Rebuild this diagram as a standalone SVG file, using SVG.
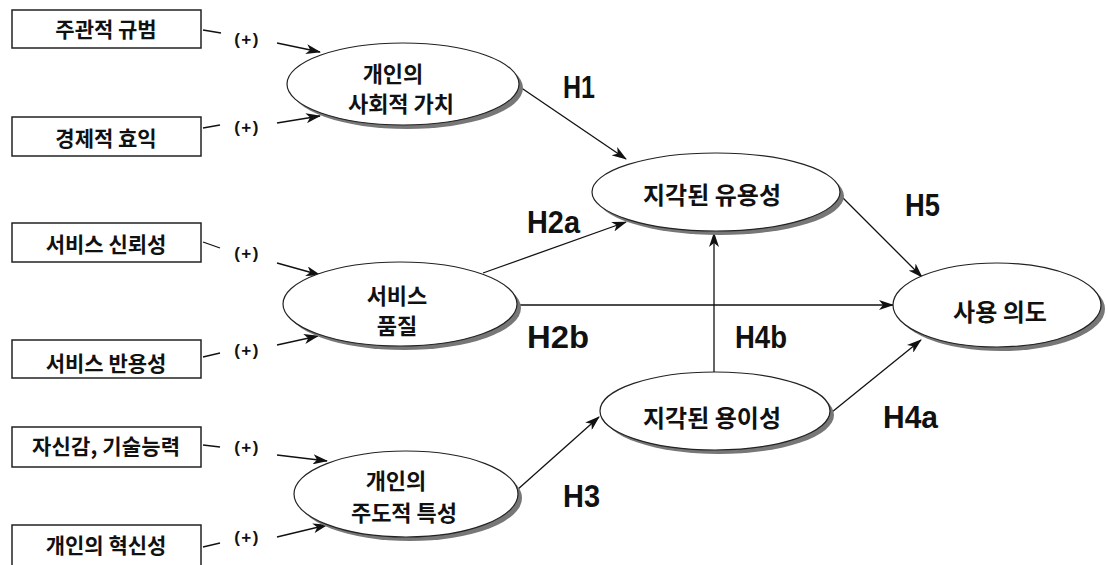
<svg xmlns="http://www.w3.org/2000/svg" width="1108" height="565" viewBox="0 0 1108 565">
<style>
.box{fill:#fff;stroke:#222;stroke-width:1.5}
.ell{fill:#fff;stroke:#222;stroke-width:1.2}
.sh{fill:#777}
.kt{font-family:"Noto Sans CJK KR","Noto Sans",sans-serif;font-weight:700;fill:#111;text-anchor:middle}
.bt{font-size:21px}
.et{font-size:24px}
.et2{font-size:22px}
.pl{font-family:"Liberation Sans",Arial,sans-serif;font-weight:700;font-size:17px;letter-spacing:1.5px;fill:#111;text-anchor:middle}
.hl{font-family:"Liberation Sans",Arial,sans-serif;font-weight:700;font-size:31px;fill:#111}
.ln{stroke:#111;stroke-width:1.3;fill:none}
.ar{stroke:#111;stroke-width:1.3;fill:none;marker-end:url(#ah)}
</style>
<defs>
<marker id="ah" markerUnits="userSpaceOnUse" markerWidth="16" markerHeight="10" refX="14" refY="5" orient="auto">
<path d="M0,0 L15,5 L0,10 L4,5 z" fill="#111"/>
</marker>
</defs>
<rect width="1108" height="565" fill="#fff"/>

<g id="connectors">
<path class="ln" d="M203,30 L221,33"/>
<path class="ln" d="M203,128 L220,125"/>
<path class="ln" d="M203,242 L220,248"/>
<path class="ln" d="M203,357 L220,353"/>
<path class="ln" d="M203,445 L220,447"/>
<path class="ln" d="M203,547 L220,543"/>
<path class="ar" d="M277,43 L320,52"/>
<path class="ar" d="M277,123 L320,116"/>
<path class="ar" d="M277,263 L320,275"/>
<path class="ar" d="M277,345 L318,336"/>
<path class="ar" d="M277,455 L327,461"/>
<path class="ar" d="M277,537 L327,525"/>
<path class="ar" d="M520,87 L626,159"/>
<path class="ar" d="M483,273 L626,222"/>
<path class="ar" d="M517,305 L893,305"/>
<path class="ar" d="M714,372 L714,233"/>
<path class="ar" d="M842,197 L922,277"/>
<path class="ar" d="M832,412 L921,340"/>
<path class="ar" d="M517,490 L599,417"/>
</g>

<g id="labels">
<text class="pl" x="247" y="45">(+)</text>
<text class="pl" x="247" y="133">(+)</text>
<text class="pl" x="247" y="259">(+)</text>
<text class="pl" x="247" y="356">(+)</text>
<text class="pl" x="247" y="453">(+)</text>
<text class="pl" x="247" y="543">(+)</text>
<text class="hl" x="563" y="98" textLength="32" lengthAdjust="spacingAndGlyphs">H1</text>
<text class="hl" x="527" y="233" textLength="53" lengthAdjust="spacingAndGlyphs">H2a</text>
<text class="hl" x="905" y="216" textLength="35" lengthAdjust="spacingAndGlyphs">H5</text>
<text class="hl" x="527" y="348" textLength="62" lengthAdjust="spacingAndGlyphs">H2b</text>
<text class="hl" x="735" y="348" textLength="52" lengthAdjust="spacingAndGlyphs">H4b</text>
<text class="hl" x="883" y="428" textLength="55" lengthAdjust="spacingAndGlyphs">H4a</text>
<text class="hl" x="563" y="507" textLength="37" lengthAdjust="spacingAndGlyphs">H3</text>
</g>

<g id="box1"><rect class="box" x="12" y="10" width="189" height="38"/><text class="kt bt" x="106" y="37">주관적 규범</text></g>
<g id="box2"><rect class="box" x="12" y="117" width="189" height="39"/><text class="kt bt" x="106" y="146">경제적 효익</text></g>
<g id="box3"><rect class="box" x="12" y="223" width="189" height="39"/><text class="kt bt" x="106" y="252">서비스 신뢰성</text></g>
<g id="box4"><rect class="box" x="12" y="340" width="189" height="38"/><text class="kt bt" x="106" y="371">서비스 반용성</text></g>
<g id="box5"><rect class="box" x="12" y="427" width="189" height="40"/><text class="kt bt" x="106" y="454" textLength="148" lengthAdjust="spacing">자신감, 기술능력</text></g>
<g id="box6"><rect class="box" x="12" y="525" width="189" height="45"/><text class="kt bt" x="106" y="553">개인의 혁신성</text></g>

<g id="social_value"><ellipse class="sh" cx="407" cy="88" rx="116" ry="41"/><ellipse class="ell" cx="403" cy="84" rx="116" ry="41"/><text class="kt et2"><tspan x="393" y="82">개인의</tspan><tspan x="401" y="112">사회적 가치</tspan></text></g>
<g id="service_quality"><ellipse class="sh" cx="404" cy="308" rx="117" ry="42"/><ellipse class="ell" cx="400" cy="304" rx="117" ry="42"/><text class="kt et2"><tspan x="397" y="304">서비스</tspan><tspan x="397" y="334">품질</tspan></text></g>
<g id="personal_trait"><ellipse class="sh" cx="410" cy="498" rx="112" ry="43"/><ellipse class="ell" cx="406" cy="494" rx="112" ry="43"/><text class="kt et2"><tspan x="396" y="489">개인의</tspan><tspan x="404" y="521">주도적 특성</tspan></text></g>
<g id="usefulness"><ellipse class="sh" cx="720" cy="196" rx="124" ry="39"/><ellipse class="ell" cx="716" cy="192" rx="124" ry="39"/><text class="kt et" x="712" y="204">지각된 유용성</text></g>
<g id="ease"><ellipse class="sh" cx="719" cy="415" rx="115" ry="39"/><ellipse class="ell" cx="715" cy="411" rx="115" ry="39"/><text class="kt et" x="712" y="427">지각된 용이성</text></g>
<g id="intention"><ellipse class="sh" cx="1001" cy="309" rx="104" ry="42"/><ellipse class="ell" cx="997" cy="305" rx="104" ry="42"/><text class="kt et" x="1000" y="321">사용 의도</text></g>
</svg>
